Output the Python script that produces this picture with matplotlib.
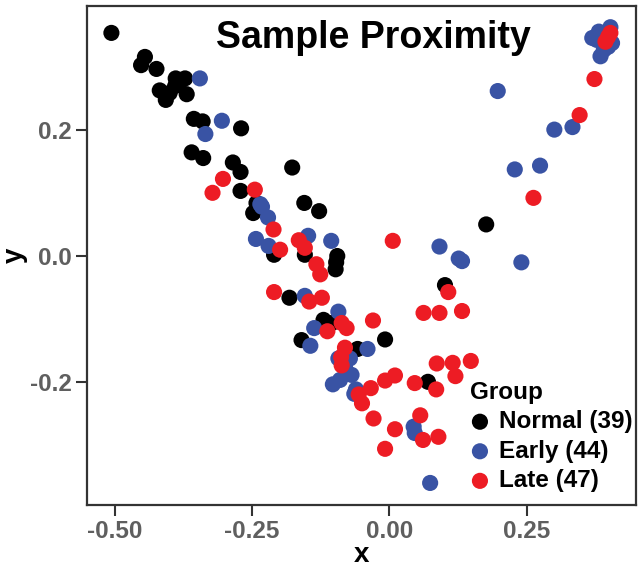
import matplotlib
matplotlib.use("Agg")
from matplotlib import pyplot as plt

# values
normal_x = [-0.506, -0.445, -0.452, -0.424, -0.389, -0.372, -0.418, -0.390, -0.407, -0.369,
            -0.356, -0.340, -0.270, -0.360, -0.339, -0.285, -0.271, -0.177, -0.271, -0.242,
            -0.248, -0.155, -0.128, -0.210, -0.154, -0.095, -0.098, -0.182, -0.120, -0.105,
            -0.160, -0.008, -0.058, 0.070, 0.101, 0.176, -0.381, -0.400, -0.097]
normal_y = [0.353, 0.315, 0.302, 0.296, 0.281, 0.281, 0.262, 0.269, 0.247, 0.256,
            0.217, 0.213, 0.202, 0.164, 0.155, 0.148, 0.133, 0.140, 0.103, 0.084,
            0.068, 0.084, 0.071, 0.002, 0.002, 0.000, -0.021, -0.066, -0.101, -0.106,
            -0.133, -0.132, -0.147, -0.199, -0.046, 0.050, 0.276, 0.258, -0.010]

early_x = [-0.345, -0.305, -0.335, -0.235, -0.221, -0.243, -0.220, -0.148, -0.106, -0.154,
           -0.093, -0.137, -0.144, -0.040, -0.093, -0.072, -0.069, -0.090, -0.103, -0.064,
           0.044, 0.046, 0.074, 0.091, 0.126, 0.132, 0.240, 0.197, 0.300, 0.333,
           0.274, 0.228, 0.369, 0.381, 0.402, 0.405, 0.384, 0.390, 0.395, 0.398,
           0.377, -0.081, -0.061, -0.232]
early_y = [0.281, 0.214, 0.193, 0.082, 0.061, 0.027, 0.016, 0.032, 0.024, -0.063,
           -0.088, -0.114, -0.142, -0.147, -0.162, -0.162, -0.188, -0.196, -0.203, -0.218,
           -0.270, -0.280, -0.359, 0.015, -0.004, -0.008, -0.010, 0.261, 0.200, 0.204,
           0.143, 0.137, 0.345, 0.355, 0.362, 0.337, 0.316, 0.326, 0.348, 0.331,
           0.342, -0.174, -0.211, 0.078]

late_x = [-0.303, -0.322, -0.245, -0.211, -0.165, -0.154, -0.199, -0.133, -0.126, 0.006,
          -0.210, -0.146, -0.123, -0.087, -0.078, -0.113, -0.030, -0.081, -0.088, -0.087,
          -0.034, -0.056, -0.050, -0.008, 0.010, 0.046, 0.085, 0.062, 0.091, 0.132,
          0.086, 0.115, 0.148, 0.120, 0.107, -0.029, 0.010, 0.056, 0.061, 0.089,
          -0.008, 0.262, 0.346, 0.373, 0.402, 0.393, 0.398]
late_y = [0.122, 0.100, 0.105, 0.042, 0.025, 0.013, 0.010, -0.013, -0.029, 0.024,
          -0.057, -0.072, -0.066, -0.106, -0.114, -0.119, -0.102, -0.145, -0.160, -0.173,
          -0.209, -0.219, -0.233, -0.197, -0.189, -0.201, -0.211, -0.090, -0.090, -0.087,
          -0.170, -0.169, -0.166, -0.190, -0.057, -0.257, -0.274, -0.252, -0.291, -0.286,
          -0.305, 0.092, 0.223, 0.280, 0.353, 0.339, 0.347]

groups = ["Normal", "Early", "Late"]
colors = ["#000000", "#3953a4", "#ed1c24"]

plt.rcParams['font.family'] = ['Liberation Sans', 'DejaVu Sans']

fig = plt.figure(figsize=(6.42, 5.72), dpi=100)
ax = fig.add_axes([0.135, 0.117, 0.856, 0.873])

series = [(normal_x, normal_y), (early_x, early_y), (late_x, late_y)]
for (xs, ys), name, c in zip(series, groups, colors):
    ax.scatter(xs, ys, s=135, c=c, edgecolors='none',
               label="%s (%d)" % (name, len(xs)))

ax.set_xlim(-0.551, 0.449)
ax.set_ylim(-0.394, 0.396)
ax.set_xticks([-0.50, -0.25, 0.00, 0.25])
ax.set_xticklabels(["-0.50", "-0.25", "0.00", "0.25"])
ax.set_yticks([-0.2, 0.0, 0.2])
ax.set_yticklabels(["-0.2", "0.0", "0.2"])

for side in ax.spines.values():
    side.set_linewidth(1.6)
    side.set_color('#333333')
ax.tick_params(axis='both', length=8, width=1.5, color='#333333',
               labelsize=17.5, labelcolor='#5f5f5f', pad=3)
for lab in ax.get_xticklabels() + ax.get_yticklabels():
    lab.set_fontweight('bold')

ax.set_xlabel("x", fontsize=20, fontweight='bold', labelpad=-1)
ax.set_ylabel("y", fontsize=20, fontweight='bold', labelpad=1)

ax.text(0.521, 0.971, "Sample Proximity", transform=ax.transAxes,
        ha='center', va='top', fontsize=27, fontweight='bold')

leg = ax.legend(loc='lower right', bbox_to_anchor=(1.003, 0.016), frameon=False,
                title="Group",
                prop={'weight': 'bold', 'size': 17.5},
                title_fontproperties={'weight': 'bold', 'size': 17.5},
                alignment='left', handlelength=0.8, handletextpad=0.4,
                labelspacing=0.27, borderpad=0.2, borderaxespad=0.0)

fig.savefig("out.png", dpi=100)
